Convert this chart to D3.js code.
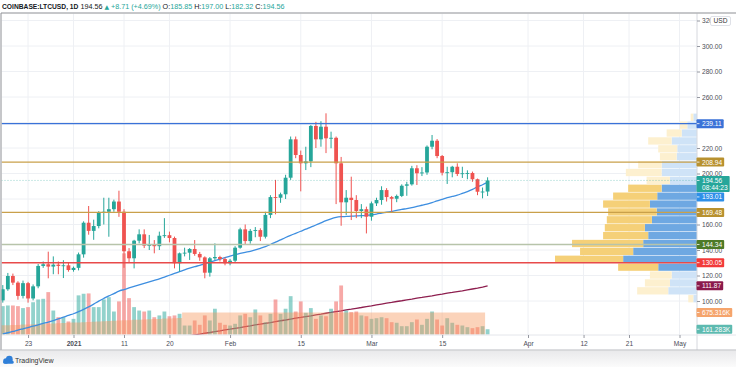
<!DOCTYPE html>
<html>
<head>
<meta charset="utf-8">
<script src="https://cdn.jsdelivr.net/npm/d3@7"></script>
<style>
html, body { margin: 0; padding: 0; background: #fff; }
svg text { font-family: "Liberation Sans", Arial, sans-serif; }
</style>
</head>
<body>
<div class="chart_container"></div>
<script>
// daily candles, 18 Dec 2020 .. 24 Mar 2021
var opens  = [100.5,109.2,119.6,114.4,104,114,102,111.5,127.5,128.8,127,128.5,127.5,128,124.3,126,136.6,161.4,155,158.8,169.3,170,172,178,170,139,133.5,147.3,152.3,143.4,144,143,151.2,151.6,149.4,129.6,137.4,137.9,140.8,136.9,134.2,122.2,133.5,134.5,132.9,129.6,131.6,141.8,156.2,147,155,155.6,150.4,167.5,181.5,181,183.7,196.7,226.8,214.5,208,209.5,237.3,226.8,236.7,227.6,228,208,177.4,181,179.2,170.6,172,166.1,176.6,179.2,187,181.5,180.2,182.4,190.4,191.5,204.1,200.2,200.8,221,225.7,213.7,200.6,201,205.3,199.6,200.2,200.4,195.5,185.7,185.85];
var highs  = [112.5,122,121.5,115.5,116,115,113,129,131,138.7,135,131,132,130,127,138,162.5,174.5,163.8,170.5,181,181,179.5,186.5,172,141.5,148,156.2,156.2,151.8,147.8,154.4,165,154.4,150.5,138,141.8,141.5,147.8,138.5,135,134.5,145.2,135.5,134.2,133,143,157.5,160,156.5,158,157,170,183,195,185,199,229,229,218,221,238,240.5,241,247.2,232.8,229,213,187,197.5,183,176,174,178,181,190,188.5,182.4,183.5,191.5,193.5,206,206.5,205,222,230.2,227,214.5,205.3,206,208,205.3,202.5,201.5,196,189,197];
var lows   = [98.7,108,112.5,101,102,98.7,100.5,110,126,117.8,121,121,118,123,123,124,134,152,148,157,160,150.4,170,166,126,130,125.6,145.2,141.5,140,137.4,140,149.5,146,125.6,123,135,132.2,135.5,131.5,117.8,119.1,132,131,128,128,130.5,141,144,145,150,147,149,165,168,177,180,195,212,186,202.7,205,220,221,216,219.8,176,159,167.5,163.5,165,165,153,163,174.5,175.5,178,170,177.5,181.5,182.5,190.5,191,198,199,219,212,198.5,191.8,197,198,196.5,195.5,193.5,183,180.5,182.32];
var closes = [109.2,119.6,114.4,104,114,102,111.5,127.5,128.8,127,128.5,127.5,128,124.3,126,136.6,161.4,155,158.8,169.3,170,172,178,170,139,133.5,147.3,152.3,143.4,144,143,151.2,151.6,149.4,129.6,137.4,137.9,140.8,136.9,134.2,122.2,133.5,134.5,132.9,129.6,131.6,141.8,156.2,147,155,155.6,150.4,167.5,181.5,181,183.7,196.7,226.8,214.5,208,209.5,237.3,226.8,236.7,227.6,228,208,177.4,181,179.2,170.6,172,166.1,176.6,179.2,187,181.5,180.2,182.4,190.4,191.5,204.1,200.2,200.8,221,225.7,213.7,200.6,201,205.3,199.6,200.2,200.4,195.5,185.7,185.85,194.56];

// volume in thousands
var volumes = [870,890,890,870,810,840,990,1075,1095,1300,735,530,530,400,480,1200,1250,1260,840,840,1075,1145,705,1015,2490,1115,840,735,705,735,530,585,705,560,585,635,275,275,430,297,585,430,790,360,297,275,328,585,635,530,768,585,378,635,1075,635,790,1176,705,1015,665,810,480,585,560,790,1015,1504,735,685,705,585,560,480,500,530,500,378,360,255,255,378,460,297,480,705,460,275,500,360,297,275,225,195,225,255,161.283];

// orange volume band (thousands): rising part for the first candles, then a flat level
var volBandRise = [280,284,291,295,303,307,316,321,329,333,341,345,353,357,365,369,378,383,393,399,408,413,421,426,435,440,449,454,463,467,475,479,487,491,499,505];
var volBandLevel = 675.316;

// short moving average (blue)
var maFast = [74.2,75.1,76.1,77.2,78.2,79.2,80.2,81.3,82.4,83.5,84.7,86,87.3,88.7,90,91.6,93.4,95.4,97.6,99.9,102,104,105.8,107.8,109,110.2,111.4,112.6,113.8,115,116.2,117.4,118.8,120.2,121.6,123,124.4,125.7,126.9,128,129.2,130.4,131.6,132.8,134,135.2,136.3,137.3,138.2,139,140.1,141.3,142.6,144.3,146.2,148,149.8,151.5,153.1,154.7,156.3,158,159.6,161.3,163,164.5,165.6,166.1,166.3,166.5,166.7,166.9,167.2,167.6,168.2,168.9,169.6,170.3,171,171.8,172.5,173.3,174.2,175.1,176,177.2,178.5,179.7,181,182,183,184.4,185.8,187.6,189.5,191.2,193.01];

// long moving average (maroon), starts at candle 36
var maSlowStart = 36;
var maSlow = [72.1,72.8,73.4,74.0,74.7,75.3,76.0,76.6,77.3,77.9,78.6,79.2,79.9,80.5,81.2,81.8,82.5,83.1,83.8,84.5,85.1,85.8,86.5,87.1,87.8,88.4,89.1,89.7,90.4,91.0,91.7,92.3,93.0,93.6,94.3,94.9,95.6,96.2,96.9,97.6,98.3,98.9,99.6,100.2,100.9,101.5,102.2,102.8,103.5,104.1,104.8,105.4,106.1,106.7,107.4,108.0,108.7,109.4,110.1,110.9,111.87];

// volume profile rows, bottom to top
var vpDown = [5,31,25,21.7,40,68,53,71,45,40,45,48.4,46.7,44,33.4,23.3,35.7,23.4,16.7,19,23.4,15,7.3,2.6];
var vpUp   = [3.7,28.7,27,25.3,38.7,73.7,63.7,53.7,48.7,52,45,40.3,47,39.7,35.3,27,35.3,35.3,20.3,19.7,25.3,15.3,9.7,3.7];
var vpValueArea = [4, 14];

var levels = [239.11, 208.94, 169.48, 144.34, 130.05];
var levelStyle = [
  {line: "#3a72d8", bg: "#3a72d8"},
  {line: "#c9a04a", bg: "#b8912f"},
  {line: "#c9a04a", bg: "#b8912f"},
  {line: "#b7c4aa", bg: "#4e7a27"},
  {line: "#e84a4a", bg: "#f23a3a"}
];

var priceTicks = [100, 120, 140, 160, 180, 200, 220, 240, 260, 280, 300, 320];
var timeTickDates = ["2020-12-23","2021-01-01","2021-01-11","2021-01-20","2021-02-01","2021-02-15","2021-03-01","2021-03-15","2021-04-01","2021-04-12","2021-04-21","2021-05-01"];
var timeTickLabels = ["23","2021","11","20","Feb","15","Mar","15","Apr","12","21","May"];
var countdown = "08:44:23";

var W = 736, H = 367;
var plotLeft = 1.5, plotTop = 13.5, axisX = 697, plotBottom = 335;

var svg = d3.select(".chart_container").append("svg")
    .attr("width", W)
    .attr("height", H);

svg.append("rect").attr("width", W).attr("height", H).attr("fill", "#fff");

var startDay = new Date(Date.UTC(2020, 11, 18));
var dates = d3.utcDay.range(startDay, d3.utcDay.offset(startDay, closes.length));
var parse = d3.utcParse("%Y-%m-%d");
var last = closes.length - 1;

var volBand = closes.map((c, i) => i < volBandRise.length ? volBandRise[i] : volBandLevel);

var x = d3.scaleUtc()
    .domain([parse("2021-01-01"), parse("2021-05-01")])
    .range([73.5, 679.5]);
var y = d3.scaleLinear().domain([100, 300]).range([301, 46]);
var yVol = d3.scaleLinear().domain([0, 1000]).range([334.5, 301.9]);

svg.append("defs").append("clipPath").attr("id", "plotclip")
  .append("rect")
    .attr("x", plotLeft).attr("y", plotTop)
    .attr("width", axisX - plotLeft).attr("height", plotBottom - plotTop);

// grid
var grid = svg.append("g").attr("clip-path", "url(#plotclip)");
grid.selectAll(".hg").data(priceTicks).enter().append("line")
    .attr("x1", plotLeft).attr("x2", axisX)
    .attr("y1", d => y(d)).attr("y2", d => y(d))
    .attr("stroke", "#eef0f4").attr("stroke-width", 1);
grid.selectAll(".vg").data(timeTickDates).enter().append("line")
    .attr("x1", d => x(parse(d))).attr("x2", d => x(parse(d)))
    .attr("y1", plotTop).attr("y2", plotBottom)
    .attr("stroke", "#eef0f4").attr("stroke-width", 1);

var plot = svg.append("g").attr("clip-path", "url(#plotclip)");

// volume profile
var vpLow = d3.min(lows), vpHigh = d3.max(highs);
var rowH = (vpHigh - vpLow) / vpUp.length;
var vpW = d3.scaleLinear()
    .domain([0, d3.max(vpUp.map((d, i) => d + vpDown[i]))])
    .range([0, 142]);
var vp = plot.append("g");
vpUp.forEach(function(u, k) {
  var y0 = y(vpLow + k * rowH), y1 = y(vpLow + (k + 1) * rowH);
  var inVA = k >= vpValueArea[0] && k <= vpValueArea[1];
  vp.append("rect")
      .attr("x", axisX - vpW(u)).attr("y", y1 + 0.3)
      .attr("width", vpW(u)).attr("height", y0 - y1 - 0.6)
      .attr("fill", inVA ? "#6ea8e2" : "#cfe3f7");
  vp.append("rect")
      .attr("x", axisX - vpW(u) - vpW(vpDown[k])).attr("y", y1 + 0.3)
      .attr("width", vpW(vpDown[k])).attr("height", y0 - y1 - 0.6)
      .attr("fill", inVA ? "#f5d078" : "#fdf0cf");
});

// long MA
plot.append("path")
    .datum(maSlow)
    .attr("fill", "none")
    .attr("stroke", "#8e1f4f")
    .attr("stroke-width", 1.3)
    .attr("d", d3.line().x((d, i) => x(dates[i + maSlowStart])).y(d => y(d)));

// volume bars
var bw = 3.8;
plot.selectAll(".vol").data(volumes).enter().append("rect")
    .attr("x", (d, i) => x(dates[i]) - bw / 2)
    .attr("y", d => yVol(d))
    .attr("width", bw)
    .attr("height", d => yVol(0) - yVol(d))
    .attr("fill", (d, i) => closes[i] >= opens[i] ? "rgba(38,166,154,0.5)" : "rgba(239,83,80,0.5)");

// orange band over volume
plot.append("path")
    .datum(volBand)
    .attr("fill", "rgba(245,150,90,0.42)")
    .attr("d", d3.area().curve(d3.curveStepAfter)
        .x((d, i) => x(dates[i]) - 2.5)
        .y0(yVol(0)).y1(d => yVol(d)));

// fast MA
plot.append("path")
    .datum(maFast)
    .attr("fill", "none")
    .attr("stroke", "#3d8ee0")
    .attr("stroke-width", 1.3)
    .attr("d", d3.line().curve(d3.curveMonotoneX).x((d, i) => x(dates[i])).y(d => y(d)));

// candles
var candles = plot.selectAll(".candle").data(closes).enter().append("g");
candles.append("line")
    .attr("x1", (d, i) => x(dates[i])).attr("x2", (d, i) => x(dates[i]))
    .attr("y1", (d, i) => y(highs[i])).attr("y2", (d, i) => y(lows[i]))
    .attr("stroke", (d, i) => d >= opens[i] ? "#26a69a" : "#ef5350")
    .attr("stroke-width", 1);
candles.append("rect")
    .attr("x", (d, i) => x(dates[i]) - bw / 2)
    .attr("y", (d, i) => y(Math.max(d, opens[i])))
    .attr("width", bw)
    .attr("height", (d, i) => Math.max(0.9, Math.abs(y(d) - y(opens[i]))))
    .attr("fill", (d, i) => d >= opens[i] ? "#26a69a" : "#ef5350");

// horizontal levels
plot.selectAll(".lvl").data(levels).enter().append("line")
    .attr("x1", plotLeft).attr("x2", axisX)
    .attr("y1", d => y(d)).attr("y2", d => y(d))
    .attr("stroke", (d, i) => levelStyle[i].line)
    .attr("stroke-width", 1.4);

// last price dotted line
plot.append("line")
    .attr("x1", plotLeft).attr("x2", axisX)
    .attr("y1", y(closes[last])).attr("y2", y(closes[last]))
    .attr("stroke", "#26a69a").attr("stroke-opacity", 0.6)
    .attr("stroke-dasharray", "1,2").attr("stroke-width", 0.8);

// frame
svg.append("line").attr("x1", axisX).attr("x2", axisX).attr("y1", plotTop).attr("y2", 350)
    .attr("stroke", "#d6d8de").attr("stroke-width", 1);
svg.append("line").attr("x1", plotLeft).attr("x2", W).attr("y1", plotBottom).attr("y2", plotBottom)
    .attr("stroke", "#e4e6eb").attr("stroke-width", 1);

// axis labels (positions first, so hidden ticks can be skipped)
var fmt = d3.format(".2f");
var labelSpecs = [];
levels.forEach(function(v, i) {
  labelSpecs.push({cy: y(v), lines: [fmt(v)], bg: levelStyle[i].bg});
});
labelSpecs.push({cy: y(maSlow[maSlow.length - 1]), lines: [fmt(maSlow[maSlow.length - 1])], bg: "#8b1a4c"});
labelSpecs.push({cy: yVol(volBand[last]), lines: [d3.format(".3f")(volBand[last]) + "K"], bg: "#f5a46c"});
labelSpecs.push({cy: yVol(volumes[last]), lines: [d3.format(".3f")(volumes[last]) + "K"], bg: "#5dbab0"});
var curY = y(closes[last]);
labelSpecs.push({cy: curY, lines: [fmt(closes[last]), countdown], bg: "#26a69a"});
labelSpecs.push({cy: Math.max(y(maFast[last]), curY - 4.5 + 16 + 5), lines: [fmt(maFast[last])], bg: "#2e8fe8"});

function hiddenTick(v) {
  return labelSpecs.some(s => {
    var top = s.cy - 4.5, bot = top + (s.lines.length > 1 ? 16 : 9);
    return y(v) > top - 1 && y(v) < bot + 1;
  });
}

// price axis
var yAxis = d3.axisRight(y)
    .tickValues(priceTicks.filter(v => !hiddenTick(v)))
    .tickFormat(d3.format(".2f"))
    .tickSize(3)
    .tickPadding(2);
var ya = svg.append("g").attr("transform", "translate(" + axisX + ",0)").call(yAxis);
ya.select(".domain").remove();
ya.selectAll("line").attr("stroke", "#9598a1");
ya.selectAll("text").attr("font-size", 6.6).attr("fill", "#4a4d57")
    .attr("font-family", "Liberation Sans, Arial, sans-serif");

// time axis
var xAxis = d3.axisBottom(x)
    .tickValues(timeTickDates.map(parse))
    .tickFormat((d, i) => timeTickLabels[i])
    .tickSize(3)
    .tickPadding(3);
var xa = svg.append("g").attr("transform", "translate(0," + plotBottom + ")").call(xAxis);
xa.select(".domain").remove();
xa.selectAll("line").attr("stroke", "#9598a1");
xa.selectAll("text").attr("font-size", 6.6).attr("fill", "#4a4d57")
    .attr("font-family", "Liberation Sans, Arial, sans-serif")
    .attr("font-weight", (d, i) => timeTickLabels[i] === "2021" ? "bold" : "normal");

var labels = svg.append("g");
labelSpecs.forEach(function(s) {
  var g = labels.append("g");
  var h = s.lines.length > 1 ? 16 : 9;
  var rect = g.append("rect")
      .attr("x", axisX - 0.5).attr("y", s.cy - 4.5)
      .attr("height", h).attr("rx", 1).attr("fill", s.bg);
  var maxW = 0;
  s.lines.forEach(function(t, i) {
    var tx = g.append("text")
        .attr("x", 702).attr("y", s.cy + 2.4 + i * 7.4)
        .attr("fill", "#fff").attr("font-size", 6.6).text(t);
    maxW = Math.max(maxW, tx.node().getComputedTextLength());
  });
  rect.attr("width", maxW + 7.5);
  g.append("line").attr("x1", axisX).attr("x2", axisX + 2.5)
      .attr("y1", s.cy).attr("y2", s.cy).attr("stroke", "#fff").attr("stroke-width", 0.8);
});

// currency box (sits over the top tick label, as in the platform)
svg.append("rect").attr("x", 710.5).attr("y", 16.5).attr("width", 20).attr("height", 9)
    .attr("rx", 1.5).attr("fill", "#fff").attr("stroke", "#d1d4dc").attr("stroke-width", 0.7);
svg.append("text").attr("x", 720.5).attr("y", 23.3).attr("text-anchor", "middle")
    .attr("font-size", 6.6).attr("fill", "#333").text("USD");

// outer frame
svg.append("line").attr("x1", 1).attr("x2", W).attr("y1", 13).attr("y2", 13)
    .attr("stroke", "#8d8f94").attr("stroke-width", 1);
svg.append("line").attr("x1", 1).attr("x2", 1).attr("y1", 13).attr("y2", 350)
    .attr("stroke", "#8d8f94").attr("stroke-width", 1);

// footer strip
var grad = svg.append("defs").append("linearGradient").attr("id", "foot")
    .attr("x1", 0).attr("x2", 0).attr("y1", 0).attr("y2", 1);
grad.append("stop").attr("offset", 0).attr("stop-color", "#e9e9eb");
grad.append("stop").attr("offset", 1).attr("stop-color", "#fbfbfb");
svg.append("rect").attr("x", 0).attr("y", 350.5).attr("width", W).attr("height", H - 350.5)
    .attr("fill", "url(#foot)");
svg.append("line").attr("x1", 0).attr("x2", W).attr("y1", 350).attr("y2", 350)
    .attr("stroke", "#b9bbc0").attr("stroke-width", 1);

var logo = svg.append("g").attr("transform", "translate(2,355)");
logo.append("circle").attr("cx", 4).attr("cy", 6).attr("r", 2.8).attr("fill", "#2f7fd8");
logo.append("circle").attr("cx", 7.3).attr("cy", 4.2).attr("r", 3.4).attr("fill", "#2f7fd8");
logo.append("rect").attr("x", 1.2).attr("y", 5.5).attr("width", 10.5).attr("height", 3.3).attr("rx", 1.6).attr("fill", "#2f7fd8");
svg.append("text").attr("x", 15).attr("y", 362.5).attr("font-size", 7).attr("fill", "#333").text("TradingView");

// title line
var change = closes[last] - closes[last - 1];
var pct = change / closes[last - 1] * 100;
var title = svg.append("text").attr("x", 2).attr("y", 9.3).attr("font-size", 7.2).attr("fill", "#131722");
title.append("tspan").attr("font-weight", "bold").attr("font-size", 6.7).text("COINBASE:LTCUSD, 1D");
title.append("tspan").text("  " + fmt(closes[last]) + " ");
title.append("tspan").attr("fill", "#26a69a").attr("font-family", "DejaVu Sans").attr("font-size", 6).text("▲");
title.append("tspan").attr("fill", "#26a69a").text(" +" + fmt(change) + " (+" + fmt(pct) + "%)  ");
[["O:", opens[last]], ["H:", highs[last]], ["L:", lows[last]], ["C:", closes[last]]].forEach(function(p) {
  title.append("tspan").attr("fill", "#131722").text(p[0]);
  title.append("tspan").attr("fill", "#26a69a").text(fmt(p[1]) + "  ");
});
</script>
</body>
</html>
